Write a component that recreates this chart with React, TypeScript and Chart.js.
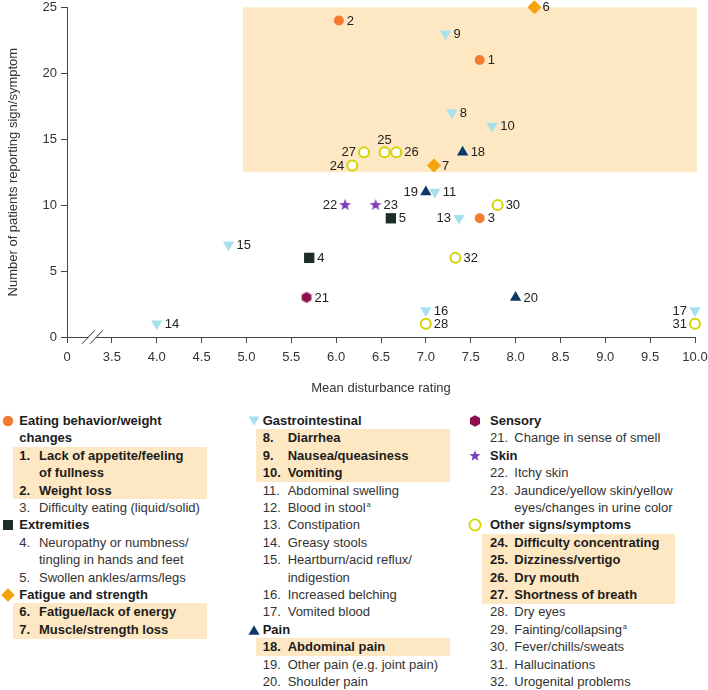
import React, { useEffect, useRef } from 'react';
import { Chart, registerables } from 'chart.js';

Chart.register(...registerables);

const FONT = "'Liberation Sans', Arial, Helvetica, sans-serif";

// [symptom number, mean disturbance rating, number of patients]
const eatingPoints = [[1, 7.6, 21], [2, 6.03, 24], [3, 7.6, 9]];
const extremitiesPoints = [[4, 5.7, 6], [5, 6.61, 9]];
const fatiguePoints = [[6, 8.21, 25], [7, 7.09, 13]];
const giPoints = [[8, 7.29, 17], [9, 7.22, 23], [10, 7.74, 16], [11, 7.1, 11], [13, 7.37, 9], [14, 4.0, 1], [15, 4.8, 7], [16, 7.0, 2], [17, 10.0, 2]];
const painPoints = [[18, 7.41, 14], [19, 7.0, 11], [20, 8.0, 3]];
const sensoryPoints = [[21, 5.67, 3]];
const skinPoints = [[22, 6.1, 10], [23, 6.44, 10]];
const otherPoints = [[24, 6.18, 13], [25, 6.54, 14], [26, 6.67, 14], [27, 6.31, 14], [28, 7.0, 1], [30, 7.8, 10], [31, 10.0, 1], [32, 7.33, 6]];

const X_TICKS = [3, 3.5, 4, 4.5, 5, 5.5, 6, 6.5, 7, 7.5, 8, 8.5, 9, 9.5, 10];
const X_TICK_LABELS = ['0', '3.5', '4.0', '4.5', '5.0', '5.5', '6.0', '6.5', '7.0', '7.5', '8.0', '8.5', '9.0', '9.5', '10.0'];
const Y_TICKS = [0, 5, 10, 15, 20, 25];

// key-symptom region (rating x patients)
const HIGHLIGHT_X = [4.96, 10.02];
const HIGHLIGHT_Y = [12.5, 25];

const LEFT_LABELS = [27, 24, 19, 13, 22, 17, 31];
const TOP_LABELS = [25];

const COLORS = {
  eating: '#F47B30',
  extremities: '#1E2B2B',
  fatigue: '#F5A30A',
  gi: '#A6E0EE',
  pain: '#0C3A66',
  sensory: '#8E0F50',
  skin: '#7B3DB8',
  other: '#D1D500',
  highlight: '#FDE8C3',
};

function makeShape(kind: string, color: string): HTMLCanvasElement {
  const c = document.createElement('canvas');
  c.width = 14;
  c.height = 14;
  const ctx = c.getContext('2d')!;
  ctx.fillStyle = color;
  ctx.beginPath();
  const cx = 7, cy = 7;
  if (kind === 'star') {
    const R = 6.3, r = 2.6;
    for (let i = 0; i < 10; i++) {
      const a = -Math.PI / 2 + (i * Math.PI) / 5;
      const rr = i % 2 === 0 ? R : r;
      const px = cx + rr * Math.cos(a), py = cy + rr * Math.sin(a);
      if (i === 0) ctx.moveTo(px, py); else ctx.lineTo(px, py);
    }
  } else {
    const R = 5.6;
    for (let i = 0; i < 6; i++) {
      const a = -Math.PI / 2 + (i * Math.PI) / 3;
      const px = cx + R * Math.cos(a), py = cy + R * Math.sin(a);
      if (i === 0) ctx.moveTo(px, py); else ctx.lineTo(px, py);
    }
  }
  ctx.closePath();
  ctx.fill();
  return c;
}

const toData = (pts: number[][]) => pts.map(([id, x, y]) => ({ x, y, id }));

const highlightPlugin = {
  id: 'keyRegion',
  beforeDatasetsDraw(chart: any) {
    const { ctx, scales } = chart;
    const x0 = scales.x.getPixelForValue(HIGHLIGHT_X[0]);
    const x1 = scales.x.getPixelForValue(HIGHLIGHT_X[1]);
    const y0 = scales.y.getPixelForValue(HIGHLIGHT_Y[1]);
    const y1 = scales.y.getPixelForValue(HIGHLIGHT_Y[0]);
    ctx.save();
    ctx.fillStyle = COLORS.highlight;
    ctx.fillRect(x0, y0, x1 - x0, y1 - y0);
    ctx.restore();
  },
};

const labelPlugin = {
  id: 'pointNumbers',
  afterDatasetsDraw(chart: any) {
    const ctx = chart.ctx;
    ctx.save();
    ctx.font = `13px ${FONT}`;
    ctx.fillStyle = '#222';
    ctx.textBaseline = 'middle';
    chart.data.datasets.forEach((ds: any, di: number) => {
      const meta = chart.getDatasetMeta(di);
      meta.data.forEach((el: any, i: number) => {
        const id = ds.data[i].id;
        const txt = String(id);
        if (LEFT_LABELS.includes(id)) {
          ctx.textAlign = 'right';
          ctx.fillText(txt, el.x - 8, el.y + 0.5);
        } else if (TOP_LABELS.includes(id)) {
          ctx.textAlign = 'center';
          ctx.fillText(txt, el.x, el.y - 12);
        } else {
          ctx.textAlign = 'left';
          ctx.fillText(txt, el.x + 8, el.y + 0.5);
        }
      });
    });
    ctx.restore();
  },
};

const axisBreakPlugin = {
  id: 'axisBreak',
  afterDraw(chart: any) {
    const { ctx, scales } = chart;
    const px0 = scales.x.getPixelForValue(3);
    const y = scales.y.getPixelForValue(0);
    const c1 = px0 + 21.5, c2 = px0 + 29.5;
    ctx.save();
    ctx.fillStyle = '#ffffff';
    ctx.fillRect(c1, y - 2, c2 - c1, 4);
    ctx.strokeStyle = '#333';
    ctx.lineWidth = 1;
    ctx.beginPath();
    [c1, c2].forEach((c) => {
      ctx.moveTo(c - 6.5, y + 6.8);
      ctx.lineTo(c + 6.5, y - 6.8);
    });
    ctx.stroke();
    ctx.restore();
  },
};

function ScatterChart() {
  const ref = useRef<HTMLCanvasElement | null>(null);
  useEffect(() => {
    if (!ref.current) return;
    const star = makeShape('star', COLORS.skin);
    const hex = makeShape('hex', COLORS.sensory);
    const base = { showLine: false, clip: false as any };
    const chart = new Chart(ref.current, {
      type: 'scatter',
      data: {
        datasets: [
          { ...base, label: 'Eating behavior/weight changes', data: toData(eatingPoints), pointStyle: 'circle', pointRadius: 5, backgroundColor: COLORS.eating, borderColor: COLORS.eating, borderWidth: 0 },
          { ...base, label: 'Extremities', data: toData(extremitiesPoints), pointStyle: 'rect', pointRadius: 7.3, backgroundColor: COLORS.extremities, borderColor: COLORS.extremities, borderWidth: 0 },
          { ...base, label: 'Fatigue and strength', data: toData(fatiguePoints), pointStyle: 'rectRot', pointRadius: 7, backgroundColor: COLORS.fatigue, borderColor: COLORS.fatigue, borderWidth: 0 },
          { ...base, label: 'Gastrointestinal', data: toData(giPoints), pointStyle: 'triangle', rotation: 180, pointRadius: 6.5, backgroundColor: COLORS.gi, borderColor: COLORS.gi, borderWidth: 0 },
          { ...base, label: 'Pain', data: toData(painPoints), pointStyle: 'triangle', pointRadius: 6.5, backgroundColor: COLORS.pain, borderColor: COLORS.pain, borderWidth: 0 },
          { ...base, label: 'Sensory', data: toData(sensoryPoints), pointStyle: hex, pointRadius: 6, backgroundColor: COLORS.sensory },
          { ...base, label: 'Skin', data: toData(skinPoints), pointStyle: star, pointRadius: 6, backgroundColor: COLORS.skin },
          { ...base, label: 'Other signs/symptoms', data: toData(otherPoints), pointStyle: 'circle', pointRadius: 5, backgroundColor: '#ffffff', borderColor: COLORS.other, borderWidth: 2 },
        ] as any,
      },
      options: {
        animation: false,
        responsive: false,
        maintainAspectRatio: false,
        layout: { padding: { top: 7, right: 13, left: 0, bottom: 0 } },
        plugins: { legend: { display: false }, tooltip: { enabled: false } },
        scales: {
          x: {
            type: 'linear',
            min: 3,
            max: 10,
            afterBuildTicks: (s: any) => { s.ticks = X_TICKS.map((v) => ({ value: v })); },
            afterFit: (s: any) => { s.height = 63; s.paddingLeft = 0; s.paddingRight = 0; },
            ticks: {
              callback: (_v: any, i: number) => X_TICK_LABELS[i],
              font: { family: FONT, size: 13 },
              color: '#333',
              padding: 7,
              maxRotation: 0,
              autoSkip: false,
            },
            grid: { display: true, drawOnChartArea: false, drawTicks: true, tickLength: 6, color: '#444' },
            border: { display: true, color: '#444', width: 1 },
            title: { display: true, text: 'Mean disturbance rating', font: { family: FONT, size: 13 }, color: '#333', padding: { top: 0, bottom: 4 } },
          },
          y: {
            type: 'linear',
            min: 0,
            max: 25,
            afterBuildTicks: (s: any) => { s.ticks = Y_TICKS.map((v) => ({ value: v })); },
            afterFit: (s: any) => { s.width = 67; s.paddingTop = 0; s.paddingBottom = 0; },
            ticks: { font: { family: FONT, size: 13 }, color: '#333', padding: 4 },
            grid: { display: true, drawOnChartArea: false, drawTicks: true, tickLength: 6, color: '#444' },
            border: { display: true, color: '#444', width: 1 },
            title: { display: true, text: 'Number of patients reporting sign/symptom', font: { family: FONT, size: 13 }, color: '#333', padding: { top: 6, bottom: 0 } },
          },
        },
      } as any,
      plugins: [highlightPlugin, labelPlugin, axisBreakPlugin],
    });
    return () => chart.destroy();
  }, []);
  return <canvas ref={ref} width={708} height={400} style={{ position: 'absolute', left: 0, top: 0, width: 708, height: 400 }} />;
}

// ---------- Legend ----------
type Item = { n: number; lines: string[]; key?: boolean; sup?: boolean };
type Group = { head: string[]; marker: string; items: Item[] };

const legendCol1: Group[] = [
  { head: ['Eating behavior/weight', 'changes'], marker: 'eating', items: [
    { n: 1, lines: ['Lack of appetite/feeling', 'of fullness'], key: true },
    { n: 2, lines: ['Weight loss'], key: true },
    { n: 3, lines: ['Difficulty eating (liquid/solid)'] },
  ] },
  { head: ['Extremities'], marker: 'extremities', items: [
    { n: 4, lines: ['Neuropathy or numbness/', 'tingling in hands and feet'] },
    { n: 5, lines: ['Swollen ankles/arms/legs'] },
  ] },
  { head: ['Fatigue and strength'], marker: 'fatigue', items: [
    { n: 6, lines: ['Fatigue/lack of energy'], key: true },
    { n: 7, lines: ['Muscle/strength loss'], key: true },
  ] },
];
const legendCol2: Group[] = [
  { head: ['Gastrointestinal'], marker: 'gi', items: [
    { n: 8, lines: ['Diarrhea'], key: true },
    { n: 9, lines: ['Nausea/queasiness'], key: true },
    { n: 10, lines: ['Vomiting'], key: true },
    { n: 11, lines: ['Abdominal swelling'] },
    { n: 12, lines: ['Blood in stool'], sup: true },
    { n: 13, lines: ['Constipation'] },
    { n: 14, lines: ['Greasy stools'] },
    { n: 15, lines: ['Heartburn/acid reflux/', 'indigestion'] },
    { n: 16, lines: ['Increased belching'] },
    { n: 17, lines: ['Vomited blood'] },
  ] },
  { head: ['Pain'], marker: 'pain', items: [
    { n: 18, lines: ['Abdominal pain'], key: true },
    { n: 19, lines: ['Other pain (e.g. joint pain)'] },
    { n: 20, lines: ['Shoulder pain'] },
  ] },
];
const legendCol3: Group[] = [
  { head: ['Sensory'], marker: 'sensory', items: [
    { n: 21, lines: ['Change in sense of smell'] },
  ] },
  { head: ['Skin'], marker: 'skin', items: [
    { n: 22, lines: ['Itchy skin'] },
    { n: 23, lines: ['Jaundice/yellow skin/yellow', 'eyes/changes in urine color'] },
  ] },
  { head: ['Other signs/symptoms'], marker: 'other', items: [
    { n: 24, lines: ['Difficulty concentrating'], key: true },
    { n: 25, lines: ['Dizziness/vertigo'], key: true },
    { n: 26, lines: ['Dry mouth'], key: true },
    { n: 27, lines: ['Shortness of breath'], key: true },
    { n: 28, lines: ['Dry eyes'] },
    { n: 29, lines: ['Fainting/collapsing'], sup: true },
    { n: 30, lines: ['Fever/chills/sweats'] },
    { n: 31, lines: ['Hallucinations'] },
    { n: 32, lines: ['Urogenital problems'] },
  ] },
];

function Marker({ kind }: { kind: string }) {
  const c = (COLORS as any)[kind];
  let shape: any = null;
  if (kind === 'eating') shape = <circle cx={8} cy={8} r={5.2} fill={c} />;
  else if (kind === 'extremities') shape = <rect x={3} y={3} width={10} height={10} fill={c} />;
  else if (kind === 'fatigue') shape = <polygon points="8,1.3 14.7,8 8,14.7 1.3,8" fill={c} />;
  else if (kind === 'gi') shape = <polygon points="2.5,3.5 13.5,3.5 8,12.5" fill={c} />;
  else if (kind === 'pain') shape = <polygon points="2.5,12.8 13.5,12.8 8,3.3" fill={c} />;
  else if (kind === 'sensory') {
    const pts = Array.from({ length: 6 }, (_, i) => {
      const a = -Math.PI / 2 + (i * Math.PI) / 3;
      return `${8 + 5.8 * Math.cos(a)},${8 + 5.8 * Math.sin(a)}`;
    }).join(' ');
    shape = <polygon points={pts} fill={c} />;
  } else if (kind === 'skin') {
    const pts = Array.from({ length: 10 }, (_, i) => {
      const a = -Math.PI / 2 + (i * Math.PI) / 5;
      const r = i % 2 === 0 ? 5.8 : 2.4;
      return `${8 + r * Math.cos(a)},${8 + r * Math.sin(a)}`;
    }).join(' ');
    shape = <polygon points={pts} fill={c} />;
  } else if (kind === 'other') shape = <circle cx={8} cy={8} r={5.6} fill="#fff" stroke={c} strokeWidth={1.8} />;
  return <svg width={16} height={16} viewBox="0 0 16 16" style={{ display: 'block' }}>{shape}</svg>;
}

const LINE_H = 17.4;
const LEGEND_TOP = 412;

function LegendColumn({ groups, x, numW, markerX, hlLeft, hlRight }: { groups: Group[]; x: number; numW: number; markerX: number; hlLeft: number; hlRight: number }) {
  const rows: any[] = [];
  const hls: number[] = [];
  const markers: { kind: string; row: number }[] = [];
  let r = 0;
  groups.forEach((g) => {
    markers.push({ kind: g.marker, row: r });
    g.head.forEach((h) => {
      rows.push(<div key={`h${r}`} style={{ position: 'absolute', top: r * LINE_H, left: 0, fontWeight: 700, color: '#1c1c1c' }}>{h}</div>);
      r++;
    });
    g.items.forEach((it) => {
      it.lines.forEach((ln, li) => {
        if (it.key) hls.push(r);
        const style: any = {
          position: 'absolute', top: r * LINE_H, left: 0,
          fontWeight: it.key ? 700 : 400,
          color: it.key ? '#1c1c1c' : '#333',
        };
        rows.push(
          <div key={`i${r}`} style={style}>
            <span style={{ display: 'inline-block', width: numW }}>{li === 0 ? `${it.n}.` : ''}</span>
            {ln}
            {it.sup && li === it.lines.length - 1 ? <sup style={{ fontSize: 7, verticalAlign: 'top', position: 'relative', top: -3, marginLeft: 1 }}>a</sup> : null}
          </div>
        );
        r++;
      });
    });
  });
  return (
    <div style={{ position: 'absolute', left: x, top: LEGEND_TOP, width: 708 - x }}>
      {hls.map((row) => (
        <div key={`hl${row}`} style={{ position: 'absolute', left: hlLeft - x, width: hlRight - hlLeft, top: row * LINE_H, height: LINE_H + 0.5, background: COLORS.highlight }} />
      ))}
      {markers.map((m) => (
        <div key={`m${m.row}`} style={{ position: 'absolute', left: markerX - x - 8, top: m.row * LINE_H + LINE_H / 2 - 8 }}>
          <Marker kind={m.kind} />
        </div>
      ))}
      {rows}
    </div>
  );
}

export default function App() {
  return (
    <div style={{ position: 'fixed', left: 0, top: 0, width: 708, height: 690, background: '#fff', fontFamily: FONT, fontSize: 13, lineHeight: `${LINE_H}px`, whiteSpace: 'nowrap', overflow: 'hidden' }}>
      <ScatterChart />
      <LegendColumn groups={legendCol1} x={19.3} numW={19.7} markerX={8.3} hlLeft={13.3} hlRight={206.7} />
      <LegendColumn groups={legendCol2} x={262.7} numW={25} markerX={254.3} hlLeft={256} hlRight={450} />
      <LegendColumn groups={legendCol3} x={490} numW={24.3} markerX={475} hlLeft={481.7} hlRight={675} />
    </div>
  );
}
